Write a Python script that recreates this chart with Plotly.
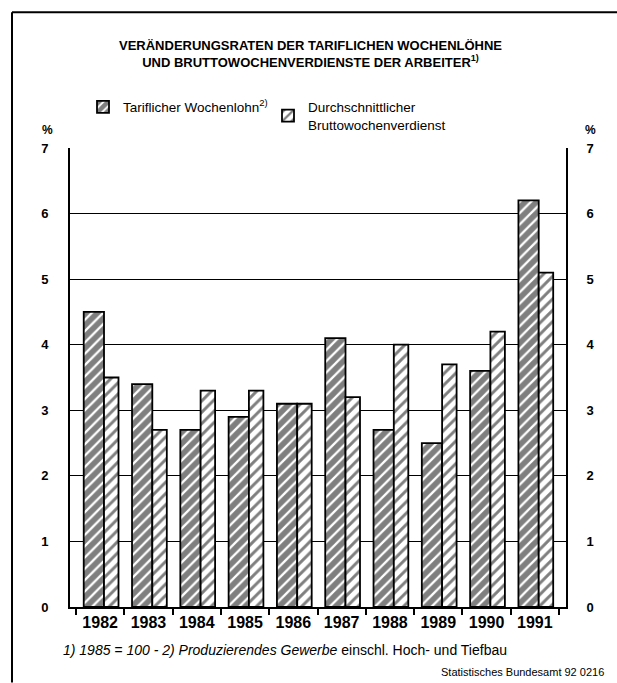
import plotly.graph_objects as go

# Data: annual change rates in %
years = ["1982", "1983", "1984", "1985", "1986", "1987", "1988", "1989", "1990", "1991"]
tarif_lohn = [4.5, 3.4, 2.7, 2.9, 3.1, 4.1, 2.7, 2.5, 3.6, 6.2]
brutto_verdienst = [3.5, 2.7, 3.3, 3.3, 3.1, 3.2, 4.0, 3.7, 4.2, 5.1]
y_ticks = [0, 1, 2, 3, 4, 5, 6, 7]

W, H = 617, 683
PL, PR, PT, PB = 70, 566, 148, 607.5   # plot area in pixels


def px_x(p):
    return (p - PL) / (PR - PL)


def px_y(p):
    return (PB - p) / (PB - PT)


FONT = "Liberation Sans, Arial, Helvetica, sans-serif"

fig = go.Figure()

fig.add_trace(go.Bar(
    x=years, y=tarif_lohn,
    name="Tariflicher Wochenlohn<sup>2)</sup>",
    offset=-0.34, width=0.42,
    marker=dict(color="white",
                line=dict(color="black", width=1.8),
                pattern=dict(shape="/", fgcolor="black", bgcolor="white",
                             size=8, solidity=0.72)),
))
fig.add_trace(go.Bar(
    x=years, y=brutto_verdienst,
    name="Durchschnittlicher<br>Bruttowochenverdienst",
    offset=0.08, width=0.30,
    marker=dict(color="white",
                line=dict(color="black", width=1.8),
                pattern=dict(shape="/", fgcolor="black", bgcolor="white",
                             size=8, solidity=0.36)),
))
# carrier for the right-hand value axis
fig.add_trace(go.Scatter(
    x=years, y=tarif_lohn, yaxis="y2", mode="markers",
    marker=dict(opacity=0), hoverinfo="skip", showlegend=False,
))

n = len(years)
cat_lo = -0.5 - (76 - PL) / 48.3
cat_hi = (n - 0.5) + (PR - 559) / 48.3

fig.update_layout(
    width=W, height=H, autosize=False,
    margin=dict(l=PL, r=W - PR, t=PT, b=H - PB, pad=0),
    paper_bgcolor="white", plot_bgcolor="white",
    barmode="overlay",
    font=dict(family=FONT, color="black"),
    showlegend=True,
    legend=dict(orientation="h", x=px_x(83), y=px_y(116),
                xanchor="left", yanchor="middle",
                font=dict(size=13.5, family=FONT),
                entrywidth=140, entrywidthmode="pixels",
                valign="middle", bgcolor="rgba(0,0,0,0)",
                itemclick=False),
    xaxis=dict(type="category", range=[cat_lo, cat_hi],
               showgrid=False, showline=True, linecolor="black", linewidth=2,
               ticks="outside", tickson="boundaries", ticklen=6,
               tickwidth=1.5, tickcolor="black",
               tickfont=dict(size=16, family=FONT, weight="bold"),
               zeroline=False, fixedrange=True),
    yaxis=dict(range=[0, 7], tickvals=y_ticks, ticks="",
               showgrid=True, gridcolor="black", gridwidth=1.3,
               showline=True, linecolor="black", linewidth=1.8,
               zeroline=False, ticklabelstandoff=17,
               tickfont=dict(size=13, family=FONT, weight="bold"),
               fixedrange=True),
    yaxis2=dict(range=[0, 7], tickvals=y_ticks, ticks="",
                overlaying="y", side="right", showgrid=False,
                showline=True, linecolor="black", linewidth=1.8,
                zeroline=False, ticklabelstandoff=16,
                tickfont=dict(size=13, family=FONT, weight="bold"),
                fixedrange=True),
)

ann = []
ann.append(dict(
    text="VERÄNDERUNGSRATEN DER TARIFLICHEN WOCHENLÖHNE<br>"
         "UND BRUTTOWOCHENVERDIENSTE DER ARBEITER<sup>1)</sup>",
    x=px_x(310), y=px_y(54), xref="paper", yref="paper",
    xanchor="center", yanchor="middle", showarrow=False, align="center",
    font=dict(size=13, family=FONT, weight="bold")))
for xp in (47, 590):
    ann.append(dict(text="%", x=px_x(xp), y=px_y(130), xref="paper", yref="paper",
                    xanchor="center", yanchor="middle", showarrow=False,
                    font=dict(size=12, family=FONT, weight="bold")))
ann.append(dict(
    text="<i>1) 1985 = 100 - 2) Produzierendes Gewerbe</i> einschl. Hoch- und Tiefbau",
    x=px_x(61), y=px_y(651), xref="paper", yref="paper",
    xanchor="left", yanchor="middle", showarrow=False,
    font=dict(size=14, family=FONT)))
ann.append(dict(
    text="Statistisches Bundesamt 92 0216",
    x=px_x(606), y=px_y(673), xref="paper", yref="paper",
    xanchor="right", yanchor="middle", showarrow=False,
    font=dict(size=11, family=FONT)))
fig.update_layout(annotations=ann)

# outer frame (top and left edges)
fig.add_shape(type="line", xref="paper", yref="paper",
              x0=px_x(12), y0=px_y(12), x1=px_x(617), y1=px_y(12),
              line=dict(color="black", width=2))
fig.add_shape(type="line", xref="paper", yref="paper",
              x0=px_x(12), y0=px_y(12), x1=px_x(12), y1=px_y(683),
              line=dict(color="black", width=2))

fig.write_html("out.html")
